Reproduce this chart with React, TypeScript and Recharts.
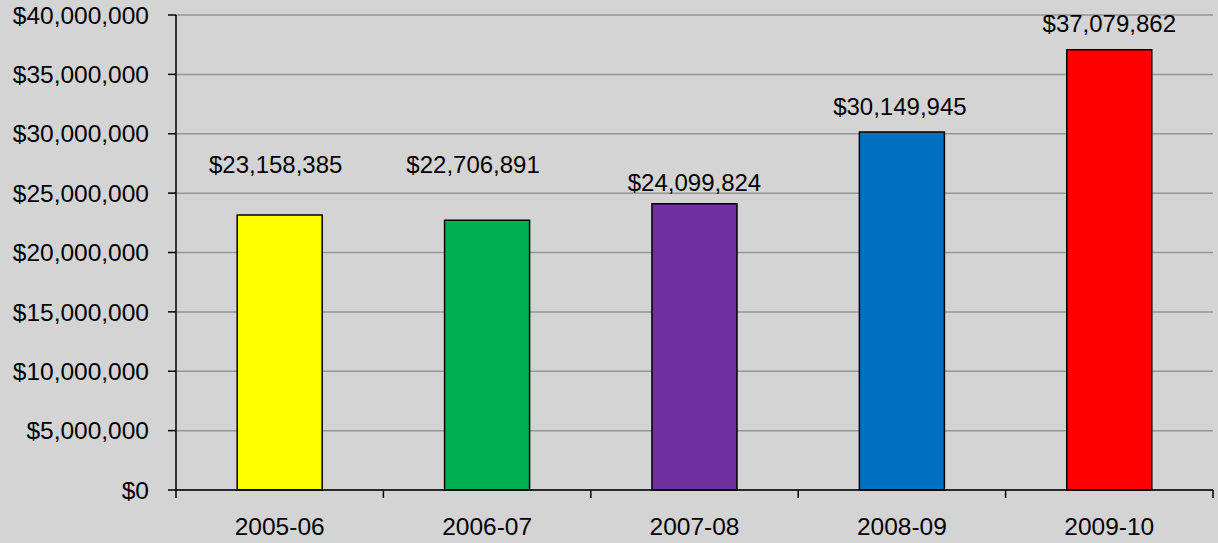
import { BarChart, Bar, XAxis, YAxis, CartesianGrid, Cell, LabelList } from 'recharts'

const years = ['2005-06', '2006-07', '2007-08', '2008-09', '2009-10']
const amounts = [23158385, 22706891, 24099824, 30149945, 37079862]
const yTicks = [0, 5000000, 10000000, 15000000, 20000000, 25000000, 30000000, 35000000, 40000000]

const barColors = ['#FFFF00', '#00B050', '#7030A0', '#0070C0', '#FF0000']

// label placement tweaks (the first two labels sit well above their bars in the original)
const labelRaise = [50, 56, 21, 25, 26]
const labelShift = [-4, -14, 0, -2, 0]

const W = 1218
const H = 543
const LEFT = 176
const RIGHT = 5
const TOP = 15
const XAXIS_H = 53
const AXIS_Y = H - XAXIS_H
const BAND = (W - LEFT - RIGHT) / years.length
const FONT = '"Liberation Sans", Arial, sans-serif'

const money = (v: number) => '$' + v.toLocaleString('en-US')

const data = years.map((year, i) => ({ year, amount: amounts[i] }))

function XTick(props: any) {
  const { x, payload, index } = props
  const left = x - BAND / 2
  return (
    <g>
      <line x1={left} x2={left} y1={AXIS_Y} y2={AXIS_Y + 8} stroke="#000" strokeWidth={1.5} />
      {index === years.length - 1 && (
        <line x1={x + BAND / 2} x2={x + BAND / 2} y1={AXIS_Y} y2={AXIS_Y + 8} stroke="#000" strokeWidth={1.5} />
      )}
      <text x={x} y={AXIS_Y + 45} textAnchor="middle" fontSize={24.5} fill="#000" fontFamily={FONT}>
        {payload.value}
      </text>
    </g>
  )
}

function ValueLabel(props: any) {
  const { x, y, width, index, value } = props
  return (
    <text
      x={x + width / 2 + labelShift[index]}
      y={y - labelRaise[index]}
      textAnchor="middle"
      dominantBaseline="central"
      fontSize={24}
      fill="#000"
      fontFamily={FONT}
    >
      {money(Number(value))}
    </text>
  )
}

export default function App() {
  return (
    <div style={{ position: 'fixed', left: 0, top: 0, width: W, height: H, background: '#D4D4D4' }}>
      <BarChart
        width={W}
        height={H}
        data={data}
        margin={{ top: TOP, right: RIGHT, left: 0, bottom: 0 }}
        barCategoryGap="29.5%"
      >
        <CartesianGrid vertical={false} stroke="#969696" strokeWidth={1.5} />
        <XAxis
          dataKey="year"
          height={XAXIS_H}
          axisLine={{ stroke: '#000', strokeWidth: 1.5 }}
          tickLine={false}
          tick={<XTick />}
          interval={0}
        />
        <YAxis
          width={LEFT}
          domain={[0, 40000000]}
          ticks={yTicks}
          tickFormatter={money}
          axisLine={{ stroke: '#000', strokeWidth: 1.5 }}
          tickLine={{ stroke: '#000', strokeWidth: 1.5 }}
          tickSize={8}
          tickMargin={19}
          tick={{ fontSize: 24.5, fill: '#000', fontFamily: FONT }}
        />
        <Bar dataKey="amount" stroke="#000" strokeWidth={1.5} isAnimationActive={false}>
          {data.map((d, i) => (
            <Cell key={d.year} fill={barColors[i]} />
          ))}
          <LabelList dataKey="amount" content={<ValueLabel />} />
        </Bar>
      </BarChart>
    </div>
  )
}
